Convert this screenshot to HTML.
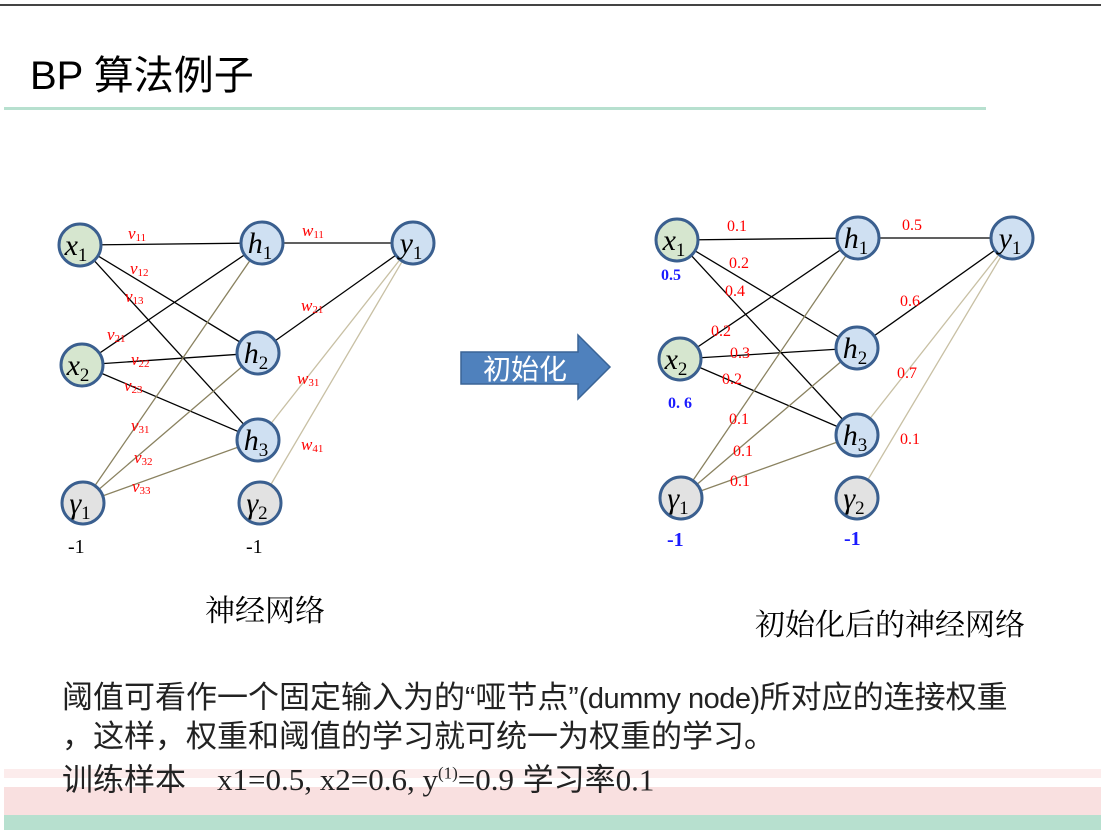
<!DOCTYPE html>
<html><head><meta charset="utf-8"><style>
html,body{margin:0;padding:0;background:#fff;}
body{width:1101px;height:834px;position:relative;overflow:hidden;font-family:"Liberation Sans","Noto Sans CJK SC",sans-serif;}
.t{position:absolute;white-space:nowrap;}
</style></head><body>
<div style="position:absolute;left:0;top:4px;width:1101px;height:2px;background:#444"></div>
<div class="t" style="left:30px;top:43px;font-size:40px;color:#000;">BP 算法例子</div>
<div style="position:absolute;left:4px;top:107px;width:982px;height:3px;background:#b7e0cf"></div>
<div style="position:absolute;left:4px;top:769px;width:1097px;height:9px;background:#fcecec"></div>
<div style="position:absolute;left:4px;top:787px;width:1097px;height:28px;background:#f9e0e0"></div>
<div style="position:absolute;left:4px;top:815px;width:1097px;height:15px;background:#b7e0cf"></div>

<svg width="1101" height="834" style="position:absolute;left:0;top:0" font-family="Liberation Serif, serif">
<g stroke-width="1.3" fill="none">
<g stroke="#000">
<line x1="80" y1="245" x2="262" y2="243"/><line x1="80" y1="245" x2="258" y2="353"/><line x1="80" y1="245" x2="258" y2="440"/>
<line x1="82" y1="365" x2="262" y2="243"/><line x1="82" y1="365" x2="258" y2="353"/><line x1="82" y1="365" x2="258" y2="440"/>
<line x1="262" y1="243" x2="413" y2="243"/><line x1="258" y1="353" x2="413" y2="243"/>
</g>
<g stroke="#8a8260"><line x1="83" y1="503" x2="262" y2="243"/><line x1="83" y1="503" x2="258" y2="353"/><line x1="83" y1="503" x2="258" y2="440"/></g>
<g stroke="#c8c0a4"><line x1="258" y1="440" x2="413" y2="243"/><line x1="260" y1="503" x2="413" y2="243"/></g>
<g stroke="#000">
<line x1="677" y1="240" x2="858" y2="238"/><line x1="677" y1="240" x2="857" y2="348"/><line x1="677" y1="240" x2="857" y2="435"/>
<line x1="680" y1="359" x2="858" y2="238"/><line x1="680" y1="359" x2="857" y2="348"/><line x1="680" y1="359" x2="857" y2="435"/>
<line x1="858" y1="238" x2="1012" y2="238"/><line x1="857" y1="348" x2="1012" y2="238"/>
</g>
<g stroke="#8a8260"><line x1="681" y1="498" x2="858" y2="238"/><line x1="681" y1="498" x2="857" y2="348"/><line x1="681" y1="498" x2="857" y2="435"/></g>
<g stroke="#c8c0a4"><line x1="857" y1="435" x2="1012" y2="238"/><line x1="857" y1="498" x2="1012" y2="238"/></g>
</g>
<g stroke="#3a5f8f" stroke-width="3">
<circle cx="80" cy="245" r="21" fill="#d6e6cf"/><circle cx="82" cy="365" r="21" fill="#d6e6cf"/><circle cx="83" cy="503" r="21" fill="#e2e2e2"/>
<circle cx="262" cy="243" r="21" fill="#cfe0f2"/><circle cx="258" cy="353" r="21" fill="#cfe0f2"/><circle cx="258" cy="440" r="21" fill="#cfe0f2"/><circle cx="260" cy="503" r="21" fill="#e2e2e2"/>
<circle cx="413" cy="243" r="21" fill="#cfe0f2"/>
<circle cx="677" cy="240" r="21" fill="#d6e6cf"/><circle cx="680" cy="359" r="21" fill="#d6e6cf"/><circle cx="681" cy="498" r="21" fill="#e2e2e2"/>
<circle cx="858" cy="238" r="21" fill="#cfe0f2"/><circle cx="857" cy="348" r="21" fill="#cfe0f2"/><circle cx="857" cy="435" r="21" fill="#cfe0f2"/><circle cx="857" cy="498" r="21" fill="#e2e2e2"/>
<circle cx="1012" cy="238" r="21" fill="#cfe0f2"/>
</g>
<g font-size="30" font-style="italic" fill="#000" text-anchor="middle">
<text x="76" y="255">x<tspan font-size="19" font-style="normal" dy="6">1</tspan></text>
<text x="78" y="375">x<tspan font-size="19" font-style="normal" dy="6">2</tspan></text>
<text x="80" y="513">γ<tspan font-size="19" font-style="normal" dy="6">1</tspan></text>
<text x="260" y="253">h<tspan font-size="19" font-style="normal" dy="6">1</tspan></text>
<text x="256" y="363">h<tspan font-size="19" font-style="normal" dy="6">2</tspan></text>
<text x="256" y="450">h<tspan font-size="19" font-style="normal" dy="6">3</tspan></text>
<text x="257" y="513">γ<tspan font-size="19" font-style="normal" dy="6">2</tspan></text>
<text x="411" y="253">y<tspan font-size="19" font-style="normal" dy="6">1</tspan></text>
<text x="674" y="250">x<tspan font-size="19" font-style="normal" dy="6">1</tspan></text>
<text x="676" y="369">x<tspan font-size="19" font-style="normal" dy="6">2</tspan></text>
<text x="678" y="508">γ<tspan font-size="19" font-style="normal" dy="6">1</tspan></text>
<text x="856" y="248">h<tspan font-size="19" font-style="normal" dy="6">1</tspan></text>
<text x="855" y="358">h<tspan font-size="19" font-style="normal" dy="6">2</tspan></text>
<text x="855" y="445">h<tspan font-size="19" font-style="normal" dy="6">3</tspan></text>
<text x="854" y="508">γ<tspan font-size="19" font-style="normal" dy="6">2</tspan></text>
<text x="1010" y="248">y<tspan font-size="19" font-style="normal" dy="6">1</tspan></text>
</g>
<g font-size="17" font-style="italic" fill="#f00">
<text x="128" y="239">v<tspan font-size="11" font-style="normal" dy="2">11</tspan></text>
<text x="130" y="274">v<tspan font-size="11" font-style="normal" dy="2">12</tspan></text>
<text x="125" y="302">v<tspan font-size="11" font-style="normal" dy="2">13</tspan></text>
<text x="107" y="340">v<tspan font-size="11" font-style="normal" dy="2">21</tspan></text>
<text x="131" y="365">v<tspan font-size="11" font-style="normal" dy="2">22</tspan></text>
<text x="124" y="391">v<tspan font-size="11" font-style="normal" dy="2">23</tspan></text>
<text x="131" y="431">v<tspan font-size="11" font-style="normal" dy="2">31</tspan></text>
<text x="134" y="463">v<tspan font-size="11" font-style="normal" dy="2">32</tspan></text>
<text x="132" y="492">v<tspan font-size="11" font-style="normal" dy="2">33</tspan></text>
<text x="302" y="236">w<tspan font-size="11" font-style="normal" dy="2">11</tspan></text>
<text x="301" y="311">w<tspan font-size="11" font-style="normal" dy="2">21</tspan></text>
<text x="297" y="384">w<tspan font-size="11" font-style="normal" dy="2">31</tspan></text>
<text x="301" y="450">w<tspan font-size="11" font-style="normal" dy="2">41</tspan></text>
</g>
<g font-size="16" fill="#f00">
<text x="727" y="231">0.1</text><text x="729" y="268">0.2</text><text x="725" y="296">0.4</text>
<text x="711" y="336">0.2</text><text x="730" y="358">0.3</text><text x="722" y="384">0.2</text>
<text x="729" y="424">0.1</text><text x="733" y="456">0.1</text><text x="730" y="486">0.1</text>
<text x="902" y="230">0.5</text><text x="900" y="306">0.6</text><text x="897" y="378">0.7</text><text x="900" y="444">0.1</text>
</g>
<g font-size="20" fill="#000">
<text x="68" y="553">-1</text><text x="246" y="553">-1</text>
</g>
<g font-size="16" font-weight="bold" fill="#1a1aff">
<text x="661" y="280">0.5</text><text x="668" y="408">0. 6</text>
</g>
<g font-size="20" font-weight="bold" fill="#1a1aff">
<text x="667" y="546">-1</text><text x="844" y="545">-1</text>
</g>
<polygon points="461,352 578,352 578,335 610,367 578,399 578,384 461,384" fill="#4f81bd" stroke="#3a6496" stroke-width="1.5"/>
<text x="483" y="379" font-size="28" fill="#fff" font-family="Liberation Sans, Noto Sans CJK SC, sans-serif">初始化</text>
</svg>
<div class="t" style="left:205px;top:586px;font-size:30px;font-family:'Liberation Serif','Noto Serif CJK SC',serif;">神经网络</div>
<div class="t" style="left:755px;top:600px;font-size:30px;font-family:'Liberation Serif','Noto Serif CJK SC',serif;">初始化后的神经网络</div>
<div class="t" style="left:62px;top:679px;font-size:31px;line-height:37px;color:#222;">阈值可看作一个固定输入为的“哑节点”<span style="font-size:29px;letter-spacing:-0.5px">(dummy node)</span>所对应的连接权重<br>，这样，权重和阈值的学习就可统一为权重的学习。<br>训练样本　<span style="font-family:'Liberation Serif',serif">x1=0.5, x2=0.6, y<sup style="font-size:17px">(1)</sup>=0.9</span>  学习率<span style="font-family:'Liberation Serif',serif">0.1</span></div>
</body></html>
